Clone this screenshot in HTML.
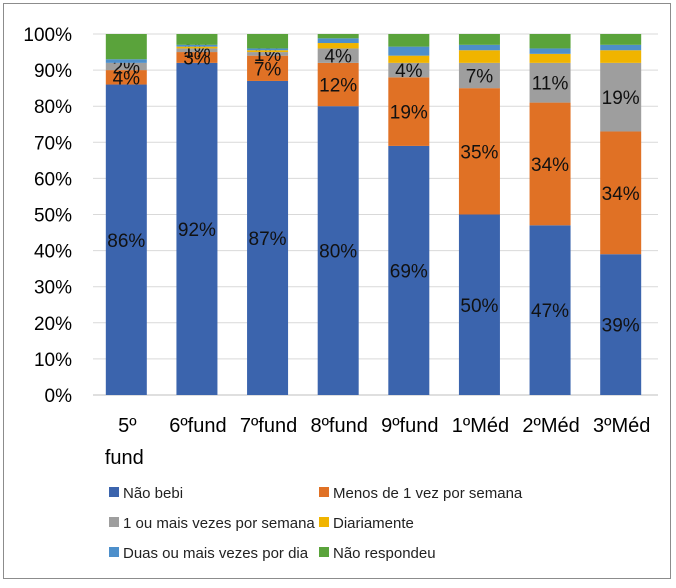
<!DOCTYPE html>
<html><head><meta charset="utf-8"><style>
body{margin:0;background:#fff;font-family:"Liberation Sans",sans-serif}
#c{position:relative;width:676px;height:583px}
</style></head><body>
<div id="c">
<svg id="s" width="676" height="583" xmlns="http://www.w3.org/2000/svg">
<rect x="3.5" y="3.5" width="667" height="575" fill="#fff" stroke="#8c8c8c"/>
</svg>
</div>
<script>
const categories=["5º fund","6ºfund","7ºfund","8ºfund","9ºfund","1ºMéd","2ºMéd","3ºMéd"];
const seriesNames=["Não bebi","Menos de 1 vez por semana","1 ou mais vezes por semana","Diariamente","Duas ou mais vezes por dia","Não respondeu"];
const naoBebi=[86,92,87,80,69,50,47,39];
const menos1=[4,3,7,12,19,35,34,34];
const umOuMais=[2,1,1,4,4,7,11,19];
const diariamente=[0,0.5,0.5,1.5,2,3.5,2.5,3.5];
const duasOuMais=[1,0.5,0.5,1.3,2.5,1.5,1.5,1.5];
const naoRespondeu=[7,3,4,1.2,3.5,3,4,3];
const yTicks=[0,10,20,30,40,50,60,70,80,90,100];
const colors=["#3b64ad","#e07125","#9e9e9e","#f0b400","#4d8fcb","#5aa33b"];
const series=[naoBebi,menos1,umOuMais,diariamente,duasOuMais,naoRespondeu];
const labeled=[true,true,true,false,false,false];
const NS="http://www.w3.org/2000/svg";
const svg=document.getElementById('s');
const y0=395,y1=34,xl=93,xr=658;
const y=v=>y0-(v/100)*(y0-y1);
const step=(xr-xl)/categories.length;
const cx=i=>xl+step*(i+0.5)-2;
const bw=41;
function el(t,a){const e=document.createElementNS(NS,t);for(const k in a)e.setAttribute(k,a[k]);svg.appendChild(e);return e;}
yTicks.forEach(t=>{
 const l=el('line',{x1:xl,x2:xr,y1:y(t),y2:y(t),stroke:t===0?'#bfbfbf':'#d9d9d9','stroke-width':1});
 
 
 const tx=el('text',{x:72,y:y(t)+7,'text-anchor':'end','font-size':19,fill:'#000'});
 tx.textContent=t+'%';
 
 
});
categories.forEach((c,i)=>{
 let acc=0;
 series.forEach((s,k)=>{
  const v=s[i];
  const r=el('rect',{x:cx(i)-bw/2,y:y(acc+v),width:bw,height:Math.max(0,y(acc)-y(acc+v)),fill:colors[k]});
  
  
  if(labeled[k]&&v>=1){
   const t=el('text',{x:cx(i),y:(y(acc)+y(acc+v))/2+7,'text-anchor':'middle','font-size':19,fill:'#111'});
   t.textContent=Math.round(v)+'%';
   
   
  }
  acc+=v;
 });
 const parts=c==="5º fund"?["5º","fund"]:[c];
 parts.forEach((p,j)=>{
  const t=el('text',{x:j===1?cx(i)-2:cx(i)+1,y:432+j*32,'text-anchor':'middle','font-size':20,fill:'#000'});
  t.textContent=p;
  
  
 });
});
seriesNames.forEach((n,k)=>{
 const lx=k%2===0?109:319, ly=492+Math.floor(k/2)*30;
 const r=el('rect',{x:lx,y:ly-5,width:10,height:10,fill:colors[k]});
 
 
 const t=el('text',{x:lx+14,y:ly+6,'font-size':15,fill:'#222'});
 t.textContent=n;
 
 
});
</script>
</body></html>
